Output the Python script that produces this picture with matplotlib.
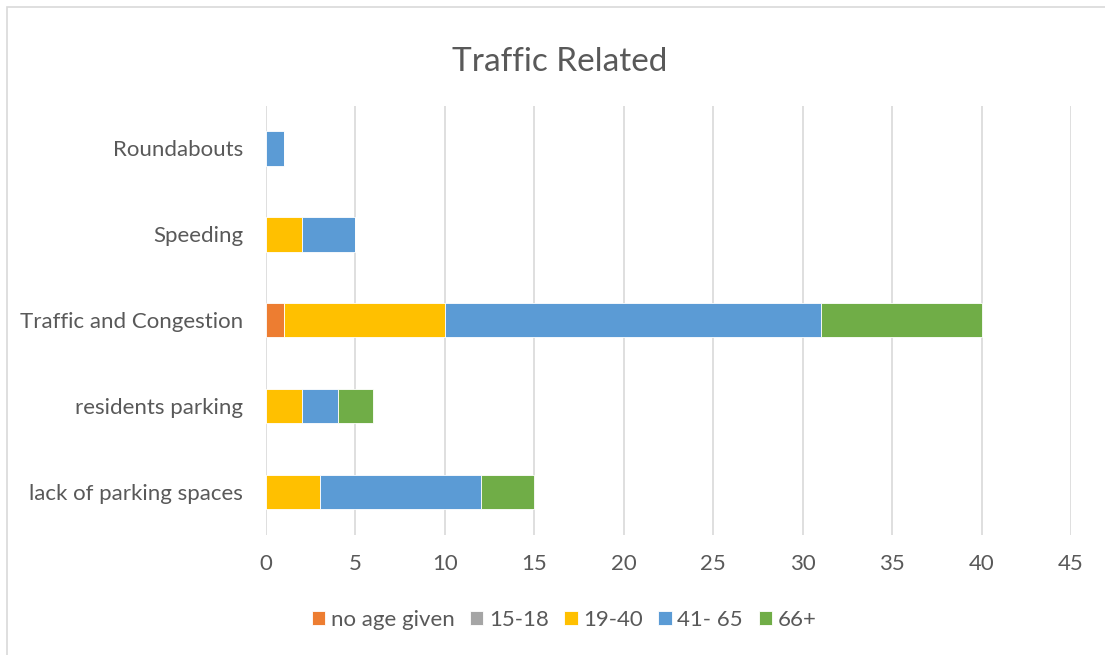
import matplotlib
matplotlib.use("Agg")
import matplotlib.pyplot as plt
import numpy as np

categories = ["lack of parking spaces", "residents parking", "Traffic and Congestion", "Speeding", "Roundabouts"]
series_names = ["no age given", "15-18", "19-40", "41- 65", "66+"]
no_age = [0, 0, 1, 0, 0]
age_15_18 = [0, 0, 0, 0, 0]
age_19_40 = [3, 2, 9, 2, 0]
age_41_65 = [9, 2, 21, 3, 1]
age_66 = [3, 2, 9, 0, 0]
colors = ["#ED7D31", "#A5A5A5", "#FFC000", "#5B9BD5", "#70AD47"]
xticks = [0, 5, 10, 15, 20, 25, 30, 35, 40, 45]

plt.rcParams['font.family'] = ['Lato', 'DejaVu Sans']
fig = plt.figure(figsize=(11.05, 6.55), dpi=100)
W, H = 1105, 655
x0, x1, y0, y1 = 266, 1071, 105.5, 535
ax = fig.add_axes([x0 / W, 1 - y1 / H, (x1 - x0) / W, (y1 - y0) / H])

series = [no_age, age_15_18, age_19_40, age_41_65, age_66]
y = np.arange(len(categories))
left = np.zeros(len(categories))
for vals, name, c in zip(series, series_names, colors):
    v = np.array(vals, dtype=float)
    ax.barh(y, v, left=left, height=0.4, color=c, label=name, zorder=3,
            edgecolor="white", linewidth=0.6)
    left += v

ax.set_ylim(-0.5, len(categories) - 0.5)
ax.set_xlim(0, 45)
ax.set_xticks(xticks)
ax.set_yticks(y)
ax.set_yticklabels(categories)
ax.grid(axis="x", color="#D9D9D9", linewidth=1.2, zorder=0)
for s in ax.spines.values():
    s.set_visible(False)
ax.tick_params(axis="both", length=0, colors="#595959", labelsize=16)
ax.tick_params(axis="y", pad=16.5)
ax.tick_params(axis="x", pad=14)

fig.text(560 / W, 1 - 62 / H, "Traffic Related", ha="center", va="center", fontsize=24, color="#595959")

leg = fig.legend(loc="center", bbox_to_anchor=(564 / W, 1 - 620 / H), ncol=5, frameon=False,
                 fontsize=16, handlelength=0.6, handleheight=0.6, handletextpad=0.25,
                 columnspacing=0.7, labelcolor="#595959")

border = plt.Rectangle((7 / W, -0.01), 1.1, 1 - 7 / H + 0.01, transform=fig.transFigure,
                       fill=False, edgecolor="#D9D9D9", linewidth=1.2)
fig.add_artist(border)

fig.savefig("out.png", dpi=100)
